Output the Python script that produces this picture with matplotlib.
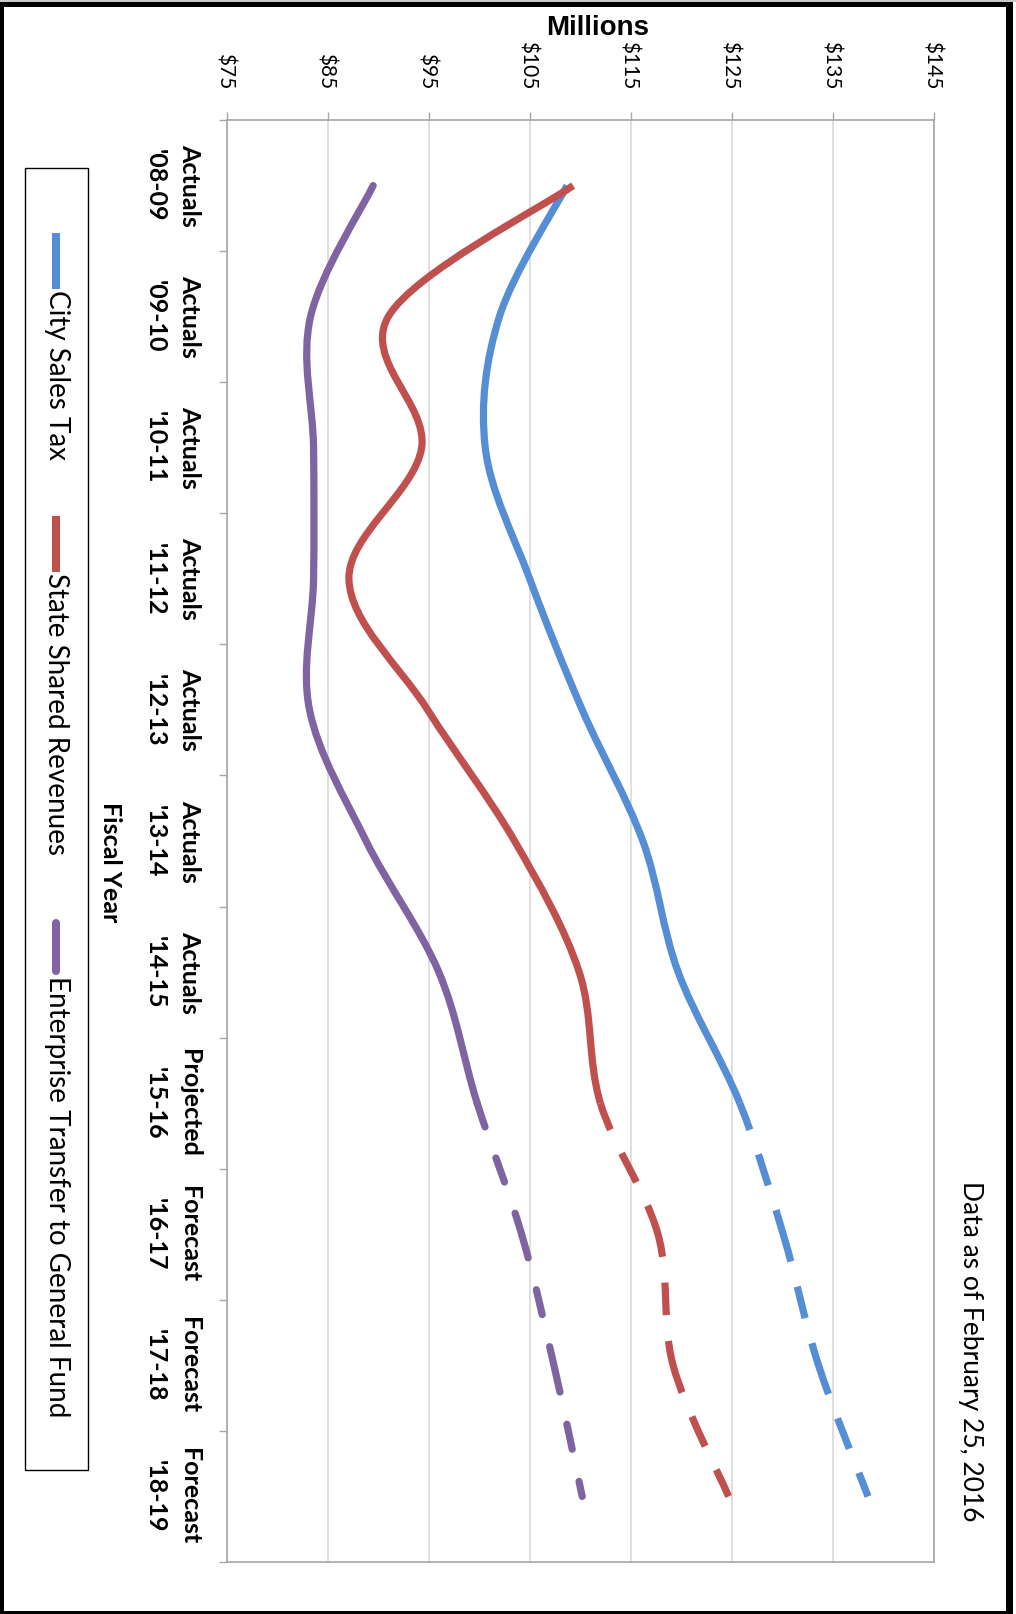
import numpy as np
import matplotlib
matplotlib.use("Agg")
import matplotlib.pyplot as plt
from matplotlib.path import Path
from matplotlib.patches import PathPatch, Rectangle
from matplotlib.lines import Line2D
import matplotlib.transforms as mtransforms

plt.rcParams["lines.scale_dashes"] = False

# ---- data -------------------------------------------------------------
years = ["'08-09", "'09-10", "'10-11", "'11-12", "'12-13", "'13-14",
         "'14-15", "'15-16", "'16-17", "'17-18", "'18-19"]
phases = ["Actuals"] * 7 + ["Projected"] + ["Forecast"] * 3
series_names = ["City Sales Tax", "State Shared Revenues",
                "Enterprise Transfer to General Fund"]
city_sales_tax = [108.7, 102.0, 100.6, 105.0, 110.2, 116.2, 119.7, 125.8, 130.1, 133.6, 138.5]
state_shared_revenues = [109.3, 91.0, 94.3, 87.1, 94.9, 103.5, 109.9, 112.0, 117.7, 119.2, 124.7]
enterprise_transfer = [89.5, 83.3, 83.6, 83.6, 83.2, 88.8, 96.0, 99.8, 104.2, 107.4, 110.2]
value_ticks = [75, 85, 95, 105, 115, 125, 135, 145]
first_projected = phases.index("Projected")   # dashed from here on

# ---- styling ----------------------------------------------------------
W, H = 1016, 1614
colors = ["#558ed5", "#c0504d", "#8064a2"]
capstyles = ["butt", "butt", "round"]
dash_butt = (18.0, (38.5, 18.7, 23.4, 18.7))
dash_round = (15.5, (33.5, 23.7, 18.4, 23.7))
axis_gray = "#a6a6a6"
grid_gray = "#d9d9d9"
FONT = "Lato"

fig = plt.figure(figsize=(W / 100, H / 100), dpi=100)
fig.patch.set_facecolor("white")


def fx(px):
    return px / W


def fy(py):
    return 1 - py / H


ax = fig.add_axes([fx(226.7), fy(1562), (933.7 - 226.7) / W, (1562 - 120) / H])
ax.set_xlim(75, 145)
ax.set_ylim(len(years) - 0.5, -0.5)

ax.set_xticks(value_ticks)
ax.tick_params(axis="x", top=True, bottom=False, labeltop=False, labelbottom=False,
               length=5.8, width=1.0, direction="out", color=axis_gray)
ax.set_yticks([])
ax.set_yticks(np.arange(-0.5, len(years), 1.0), minor=True)
ax.tick_params(axis="y", which="minor", left=True, length=5.8, width=1.0,
               direction="out", color=axis_gray, labelleft=False)
ax.grid(axis="x", color=grid_gray, lw=1.2)
ax.set_axisbelow(True)
for sp in ax.spines.values():
    sp.set_color(axis_gray)
    sp.set_linewidth(1.2)


def smooth_path(values, start, stop):
    """Cubic Bezier path through (value, index) points, smoothed like a spreadsheet line."""
    n = len(values)
    pts = np.column_stack([np.asarray(values, float), np.arange(n, dtype=float)])
    verts = [pts[start]]
    codes = [Path.MOVETO]
    for i in range(start, stop):
        p_prev = pts[i - 1] if i > 0 else pts[i]
        p_next2 = pts[i + 2] if i + 2 < n else pts[i + 1]
        c1 = pts[i] + (pts[i + 1] - p_prev) / 6.0
        c2 = pts[i + 1] - (p_next2 - pts[i]) / 6.0
        verts += [c1, c2, pts[i + 1]]
        codes += [Path.CURVE4] * 3
    return Path(verts, codes)


all_series = [city_sales_tax, state_shared_revenues, enterprise_transfer]
for vals, col, cap in zip(all_series, colors, capstyles):
    solid = PathPatch(smooth_path(vals, 0, first_projected), fill=False,
                      edgecolor=col, lw=5.2, capstyle=cap, joinstyle="round", zorder=3)
    ax.add_patch(solid)
    dash = dash_round if cap == "round" else dash_butt
    dashed = PathPatch(smooth_path(vals, first_projected, len(vals) - 1), fill=False,
                       edgecolor=col, lw=5.2, linestyle=dash, capstyle=cap,
                       joinstyle="round", zorder=3)
    ax.add_patch(dashed)

# value labels along the top
shift = mtransforms.ScaledTranslation(-8.5 / 100, 0, fig.dpi_scale_trans)
top_trans = mtransforms.blended_transform_factory(ax.transData, fig.transFigure) + shift
for v in value_ticks:
    ax.text(v, fy(89), f"${v}", transform=top_trans, rotation=-90,
            rotation_mode="anchor", ha="right", va="baseline",
            fontfamily=FONT, fontsize=15, color="black")

# fiscal-year category labels
cat_trans = mtransforms.blended_transform_factory(fig.transFigure, ax.transData)
for i, (ph, yr) in enumerate(zip(phases, years)):
    ax.text(fx(182), i, ph, transform=cat_trans, rotation=-90, rotation_mode="anchor",
            ha="center", va="baseline", fontfamily=FONT, fontweight="bold",
            fontsize=18, color="black")
    ax.text(fx(148), i, yr, transform=cat_trans, rotation=-90, rotation_mode="anchor",
            ha="center", va="baseline", fontfamily=FONT, fontweight="bold",
            fontsize=18, color="black")

# titles
fig.text(fx(597.5), fy(35), "Millions", ha="center", va="baseline",
         fontfamily="Liberation Sans", fontweight="bold", fontsize=20)
fig.text(fx(103), fy(862), "Fiscal Year", rotation=-90, rotation_mode="anchor",
         ha="center", va="baseline", fontfamily=FONT, fontweight="bold", fontsize=18)
fig.text(fx(963), fy(1351), "Data as of February 25, 2016", rotation=-90,
         rotation_mode="anchor", ha="center", va="baseline", fontfamily=FONT, fontsize=19)

# legend
fig.add_artist(Rectangle((fx(25), fy(1470)), (88 - 25) / W, (1470 - 168) / H,
                         transform=fig.transFigure, fill=False, ec="black", lw=1.0))
legend_starts = [233, 516, 919]
for name, col, cap, y0 in zip(series_names, colors, capstyles, legend_starts):
    inset = 4 if cap == "round" else 0
    fig.add_artist(Line2D([fx(56), fx(56)], [fy(y0 + inset), fy(y0 + 56 - inset)],
                          transform=fig.transFigure, color=col, lw=5.8,
                          solid_capstyle=cap))
    fig.text(fx(48.5), fy(y0 + 57), name, rotation=-90, rotation_mode="anchor",
             ha="left", va="baseline", fontfamily=FONT, fontsize=20, color="black")


# outer frame
def px_rect(x0, y0, x1, y1, color):
    fig.add_artist(Rectangle((fx(x0), fy(y1)), (x1 - x0) / W, (y1 - y0) / H,
                             transform=fig.transFigure, color=color, lw=0))


px_rect(0, 0, W, 2, "#c8c8c8")
px_rect(0, 2, 1013, 7, "black")
px_rect(0, 2, 4, H, "black")
px_rect(1006, 2, 1013, H, "black")
px_rect(0, 1611, 1013, H, "black")

fig.savefig("out.png", dpi=100, facecolor="white")
